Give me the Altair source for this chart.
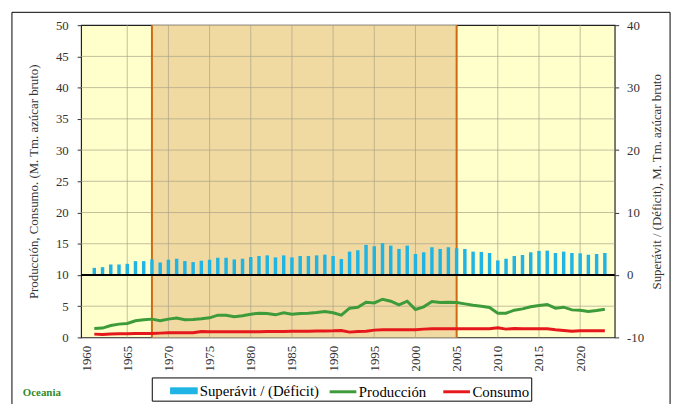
import altair as alt
import pandas as pd

# ---------------- data ----------------
years = list(range(1961, 2024))
superavit = [1.14, 1.25, 1.68, 1.68, 1.79, 2.22, 2.22, 2.49, 2.0, 2.44, 2.6, 2.22, 2.06, 2.28, 2.44, 2.76, 2.76, 2.49, 2.6, 2.87, 3.04,
             3.14, 2.82, 3.14, 2.82, 3.04, 3.04, 3.14, 3.25, 3.04, 2.55, 3.74, 3.96, 4.82, 4.6, 5.1, 4.7, 4.17, 4.7, 3.36, 3.63, 4.44, 4.17,
             4.44, 4.28, 4.17, 3.74, 3.69, 3.52, 2.33, 2.6, 3.04, 3.2, 3.63, 3.85, 3.9, 3.52, 3.74, 3.52, 3.47, 3.25, 3.36, 3.52]
produccion = [1.44, 1.5, 1.9, 2.13, 2.23, 2.66, 2.82, 2.93, 2.66, 2.93, 3.1, 2.82, 2.87, 2.98, 3.14, 3.56, 3.56, 3.3, 3.46, 3.72, 3.88,
              3.83, 3.62, 3.94, 3.72, 3.83, 3.88, 3.99, 4.15, 3.94, 3.56, 4.68, 4.84, 5.64, 5.53, 6.12, 5.8, 5.21, 5.8, 4.47, 4.9, 5.74, 5.6,
              5.64, 5.58, 5.37, 5.16, 5.0, 4.79, 3.88, 3.88, 4.36, 4.57, 4.9, 5.1, 5.27, 4.68, 4.84, 4.41, 4.36, 4.15, 4.31, 4.52]
consumo = [0.53, 0.48, 0.55, 0.58, 0.6, 0.62, 0.63, 0.64, 0.69, 0.74, 0.74, 0.74, 0.74, 0.96, 0.92, 0.9, 0.9, 0.9, 0.9, 0.9, 0.92,
           0.94, 0.96, 0.96, 0.98, 0.98, 1.0, 1.02, 1.04, 1.06, 1.12, 0.85, 0.96, 1.0, 1.17, 1.22, 1.22, 1.24, 1.22, 1.22, 1.33, 1.38, 1.38,
           1.38, 1.38, 1.4, 1.4, 1.38, 1.38, 1.54, 1.33, 1.44, 1.38, 1.38, 1.38, 1.38, 1.22, 1.12, 1.0, 1.06, 1.06, 1.06, 1.06]
x_ticks = list(range(1960, 2021, 5))
left_ticks = list(range(0, 51, 5))
right_ticks = list(range(-10, 41, 10))
periodo = [1968, 2005]
region = "Oceania"
serie_bar = "Superávit / (Déficit)"
serie_lines = ["Producción", "Consumo"]
title_left = "Producción, Consumo. (M. Tm. azúcar bruto)"
title_right = "Superávit / (Déficit), M. Tm. azúcar bruto"

FONT = "Times New Roman, Liberation Serif, serif"
W, H = 540, 316

xscale = alt.Scale(domain=[1960, 2023.6], nice=False, zero=False)
yL = alt.Scale(domain=[0, 50], nice=False, zero=False)
yR = alt.Scale(domain=[-10, 40], nice=False, zero=False)

axX = alt.Axis(values=x_ticks, labelExpr="'' + datum.value", labelAngle=270, title=None, ticks=False,
               labelPadding=8, grid=False, domain=False, labelFontSize=13)
axL = alt.Axis(values=left_ticks, labelExpr="'' + datum.value", title=title_left, tickSize=4, labelPadding=9,
               titlePadding=15, grid=False, domain=False)
axR = alt.Axis(orient="right", values=right_ticks, labelExpr="'' + datum.value", title=title_right,
               titleAngle=270, tickSize=4, labelPadding=8, titlePadding=20,
               grid=False, domain=False)

df_bar = pd.DataFrame({"anio": years, "valor": superavit, "serie_b": serie_bar})
df_lines = pd.concat([
    pd.DataFrame({"anio": years, "valor": produccion, "serie": serie_lines[0]}),
    pd.DataFrame({"anio": years, "valor": consumo, "serie": serie_lines[1]}),
])
df_band = pd.DataFrame({"ini": [periodo[0]], "fin": [periodo[1]]})
df_vlines = pd.DataFrame({"anio": periodo})
df_xgrid = pd.DataFrame({"anio": x_ticks[1:]})
df_ygrid = pd.DataFrame({"v": left_ticks[1:-1]})
df_one = pd.DataFrame({"t": [region]})

# ---------------- left (production / consumption) group ----------------
band = alt.Chart(df_band).mark_rect(color="#F1DAA2").encode(
    x=alt.X("ini:Q", scale=xscale, axis=axX), x2="fin:Q")

xgrid = alt.Chart(df_xgrid).mark_rule(color="#A8A288", strokeWidth=1, opacity=0.7).encode(
    x=alt.X("anio:Q", scale=xscale, axis=axX))

ygrid = alt.Chart(df_ygrid).mark_rule(color="#A8A288", strokeWidth=1, opacity=0.7).encode(
    y=alt.Y("v:Q", scale=yL, axis=axL))

vlines = alt.Chart(df_vlines).mark_rule(color="#CF6A12", strokeWidth=2).encode(
    x=alt.X("anio:Q", scale=xscale, axis=axX))

lines = alt.Chart(df_lines).mark_line(strokeWidth=3).encode(
    x=alt.X("anio:Q", scale=xscale, axis=axX),
    y=alt.Y("valor:Q", scale=yL, axis=axL),
    stroke=alt.Stroke("serie:N", scale=alt.Scale(domain=serie_lines, range=["#3E9B3A", "#E5191B"]),
                      legend=alt.Legend(title=None, orient="none", direction="horizontal",
                                        legendX=250, legendY=356, symbolType="stroke", symbolSize=729,
                                        symbolStrokeWidth=3, labelFont=FONT, labelFontSize=15,
                                        labelColor="black", columnPadding=10, labelOffset=1, padding=0)),
)

left = alt.layer(band, xgrid, ygrid, vlines, lines)

# ---------------- right (surplus) group ----------------
bars = alt.Chart(df_bar).mark_bar(width=3.5).encode(
    x=alt.X("anio:Q", scale=xscale, axis=axX),
    y=alt.Y("valor:Q", scale=yR, axis=axR),
    y2=alt.datum(0),
    fill=alt.Fill("serie_b:N", scale=alt.Scale(domain=[serie_bar], range=["#1FB4E4"]),
                  legend=alt.Legend(title=None, orient="none", legendX=90, legendY=356,
                                    symbolType="M-1,-0.25H1V0.25H-1Z", symbolSize=784,
                                    symbolStrokeWidth=0, labelFont=FONT, labelFontSize=15,
                                    labelColor="black", labelOffset=2, padding=0)),
)

zero = alt.Chart(pd.DataFrame({"v": [0]})).mark_rule(color="black", strokeWidth=2).encode(
    y=alt.Y("v:Q", scale=yR, axis=axR))

right = alt.layer(bars, zero)

# ---------------- decorations ----------------
legend_box = alt.Chart(df_one).mark_rect(fill="white", stroke="black", strokeWidth=1).encode(
    x=alt.value(72), x2=alt.value(456), y=alt.value(357), y2=alt.value(380.5))

frame = alt.Chart(df_one).mark_rect(fillOpacity=0, stroke="black", strokeWidth=1).encode(
    x=alt.value(-70), x2=alt.value(596), y=alt.value(-13), y2=alt.value(400))

label = alt.Chart(df_one).mark_text(align="left", baseline="middle", font=FONT, fontSize=11,
                                    fontWeight="bold", color="#2E8B2E").encode(
    text="t:N", x=alt.value(-59), y=alt.value(372))

chart = alt.layer(frame, legend_box, left, right, label).resolve_scale(
    y="independent"
).properties(
    width=W, height=H,
    padding={"left": 74, "top": 15, "right": 62, "bottom": 65},
    autosize=alt.AutoSizeParams(type="none"),
).configure_view(
    fill="#FFFFCC", stroke="#222222", strokeWidth=1.2
).configure_axis(
    labelFont=FONT, titleFont=FONT, labelFontSize=13, titleFontSize=13, titleFontWeight="normal",
    labelColor="#333333", titleColor="#333333", tickColor="#333333"
)

chart.save("out.html", embed_options={"renderer": "svg", "actions": False})
